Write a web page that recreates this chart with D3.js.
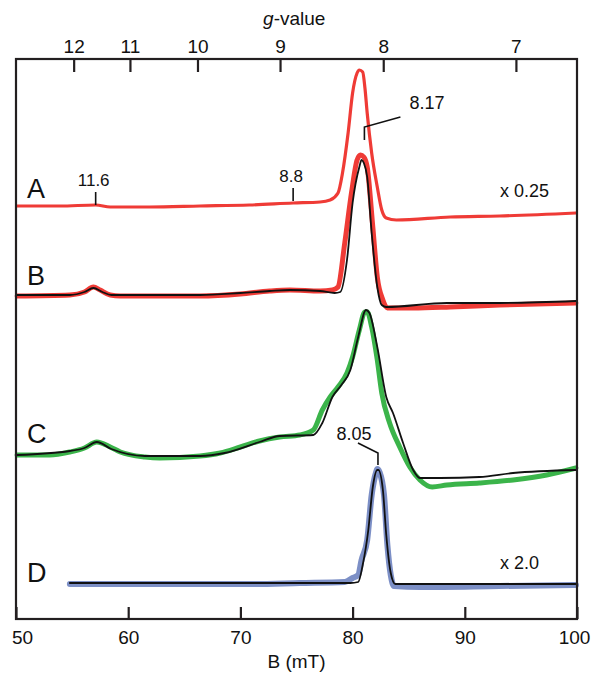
<!DOCTYPE html>
<html lang="en">
<head>
<meta charset="utf-8">
<title>EPR spectra</title>
<style>
  body { margin: 0; background: #fff; }
  svg text { font-family: "Liberation Sans", Arial, sans-serif; fill: #111; }
</style>
</head>
<body>
<svg width="592" height="673"></svg>
<script src="https://cdn.jsdelivr.net/npm/d3@7"></script>
<script>

    // field axis (mT) and g-value ticks
    var bTicks = [50, 60, 70, 80, 90, 100],
        gTicks = [12, 11, 10, 9, 8, 7],
        gB = 662.2; // g * B(mT) at this microwave frequency

    // spectra: [B (mT), intensity (a.u., stacked)]
    var traceA = [[50.1,41.3],[53.9,41.3],[57.1,41.4],[58.4,41.2],[61.9,41.2],[66.4,41.3],[70.8,41.4],
        [74.7,41.6],[77.1,41.7],[78.0,41.9],[78.7,42.6],[79.1,44.6],[79.6,48.6],[80.0,52.6],[80.4,54.6],
        [80.6,54.9],[80.9,54.7],[81.1,53.1],[81.3,50.6],[81.7,46.6],[82.2,43.2],[82.6,40.9],[83.0,40.1],
        [83.9,39.9],[88.7,40.2],[93.1,40.3],[99.9,40.6]];

    var traceB = [[50.1,32.3],[54.8,32.4],[56.1,32.7],[56.9,33.2],[57.5,32.9],[58.4,32.4],[59.3,32.3],
        [66.4,32.3],[70.0,32.5],[72.6,32.8],[74.4,32.9],[77.1,32.8],[78.2,32.9],[78.7,33.2],[79.3,37.6],
        [79.9,42.6],[80.4,45.9],[80.7,46.4],[81.0,46.2],[81.3,45.2],[81.8,39.2],[82.2,34.2],[82.7,31.9],
        [83.1,31.1],[85.4,31.1],[88.7,31.2],[93.1,31.4],[99.9,31.6]];

    var simB = [[50.1,32.4],[54.8,32.4],[56.1,32.7],[56.9,33.1],[57.7,32.7],[58.5,32.4],[66.4,32.4],
        [70.0,32.6],[72.6,32.8],[74.4,32.9],[77.1,32.8],[78.4,32.6],[78.9,32.7],[79.5,35.9],[80.0,41.6],
        [80.6,45.2],[80.8,45.9],[81.0,45.6],[81.3,44.2],[81.7,38.6],[82.2,33.2],[82.6,31.4],[83.0,31.2],
        [88.4,31.6],[93.1,31.6],[99.9,31.8]];

    var traceC = [[50.1,16.4],[53.0,16.4],[54.8,16.7],[56.1,17.1],[57.2,17.7],[58.4,17.2],[59.3,16.7],
        [61.5,16.2],[62.8,16.1],[66.4,16.3],[68.2,16.6],[70.0,17.2],[71.7,17.8],[73.5,18.2],[75.3,18.4],
        [76.5,18.9],[77.3,20.9],[78.0,22.2],[78.7,23.2],[79.5,24.6],[80.0,26.2],[80.6,28.9],[81.1,30.7],
        [81.3,30.7],[81.7,29.2],[82.2,25.9],[82.6,22.6],[83.3,19.6],[84.2,17.2],[85.1,15.2],[86.0,13.9],
        [87.1,13.2],[88.4,13.4],[91.3,13.6],[94.3,13.9],[97.3,14.4],[99.9,15.1]];

    var simC = [[50.1,16.4],[54.8,16.8],[56.1,17.1],[57.2,17.7],[58.5,17.0],[61.5,16.3],[66.4,16.3],
        [68.6,16.6],[71.7,17.7],[73.5,18.3],[76.5,18.4],[77.3,19.6],[78.2,22.2],[79.0,23.4],[79.8,24.9],
        [80.5,28.2],[81.2,30.9],[81.5,30.6],[82.2,27.2],[83.0,22.2],[83.6,20.6],[84.5,17.6],[85.4,14.9],
        [86.0,14.1],[87.8,14.1],[91.3,14.2],[94.3,14.6],[99.9,14.9]];

    var traceD = [[54.8,3.5],[61.9,3.5],[70.8,3.5],[75.3,3.6],[79.3,3.7],[80.0,4.1],[80.5,4.4],[80.8,5.9],
        [81.3,7.9],[81.7,12.4],[82.1,14.7],[82.2,15.0],[82.4,14.7],[82.8,12.4],[83.1,7.4],[83.4,4.4],
        [83.7,3.3],[86.0,3.2],[93.1,3.3],[99.9,3.4]];

    var simD = [[54.8,3.6],[79.8,3.6],[80.5,3.7],[80.9,5.4],[81.4,8.9],[81.8,13.2],[82.2,14.9],[82.3,14.9],
        [82.7,12.9],[83.0,8.4],[83.4,4.6],[83.8,3.5],[99.9,3.5]];

    var traceLabels = ["A", "B", "C", "D"],
        labelLevels = [42.1, 33.4, 17.6, 3.7];

    var svg = d3.select("svg"),
        mLeft = 16, mRight = 577, mTop = 59, mBottom = 619;

    var x = d3.scaleLinear().domain([50, 100]).range([mLeft, mRight]),
        y = d3.scaleLinear().domain([0, 56]).range([mBottom, mTop]);

    var line = d3.line()
        .x(function(d) { return x(d[0]); })
        .y(function(d) { return y(d[1]); })
        .curve(d3.curveMonotoneX);

    function drawTrace(data, color, width) {
        svg.append("path")
            .datum(data)
            .attr("d", line)
            .attr("fill", "none")
            .attr("stroke", color)
            .attr("stroke-width", width)
            .attr("stroke-linejoin", "round")
            .attr("stroke-linecap", "round");
    }

    drawTrace(traceA, "#ef3b36", 3.2);
    drawTrace(traceB, "#ef3b36", 5);
    drawTrace(simB, "#111", 1.8);
    drawTrace(traceC, "#3bb44a", 5);
    drawTrace(simC, "#111", 1.8);
    drawTrace(traceD, "#7c8fc6", 6);
    drawTrace(simD, "#111", 1.8);

    // frame
    svg.append("rect")
        .attr("x", mLeft).attr("y", mTop)
        .attr("width", mRight - mLeft).attr("height", mBottom - mTop)
        .attr("fill", "none").attr("stroke", "#231f20").attr("stroke-width", 2.2);

    // bottom axis
    var bottomAxis = svg.append("g")
        .attr("transform", "translate(0," + mBottom + ")")
        .call(d3.axisBottom(x).tickValues(bTicks).tickSizeInner(-12).tickSizeOuter(0).tickPadding(12));
    bottomAxis.select(".domain").remove();
    bottomAxis.selectAll("line").attr("stroke", "#231f20").attr("stroke-width", 2.2);
    bottomAxis.selectAll("text")
        .style("font-size", "19px")
        .attr("dx", function(d) { return d === 50 ? 6 : d === 100 ? -3 : 0; });

    svg.append("text")
        .attr("x", x(75)).attr("y", 668)
        .attr("text-anchor", "middle")
        .style("font-size", "19px")
        .text("B (mT)");

    // top axis in g-value
    var topAxis = svg.append("g")
        .attr("transform", "translate(0," + mTop + ")");
    topAxis.selectAll("line")
        .data(gTicks).enter().append("line")
        .attr("x1", function(g) { return x(gB / g); })
        .attr("x2", function(g) { return x(gB / g); })
        .attr("y1", 0).attr("y2", 13)
        .attr("stroke", "#231f20").attr("stroke-width", 2.2);
    topAxis.selectAll("text")
        .data(gTicks).enter().append("text")
        .attr("x", function(g) { return x(gB / g); })
        .attr("y", -6)
        .attr("text-anchor", "middle")
        .style("font-size", "19px")
        .text(function(g) { return g; });

    var gTitle = svg.append("text")
        .attr("x", x(74.8)).attr("y", 25)
        .attr("text-anchor", "middle")
        .style("font-size", "19px");
    gTitle.append("tspan").style("font-style", "italic").text("g");
    gTitle.append("tspan").text("-value");

    // trace letters
    svg.selectAll(".trace-label")
        .data(traceLabels).enter().append("text")
        .attr("class", "trace-label")
        .attr("x", 27)
        .attr("y", function(d, i) { return y(labelLevels[i]); })
        .style("font-size", "27px")
        .text(function(d) { return d; });

    // scale factors
    svg.append("text").attr("x", 500).attr("y", y(42.2))
        .style("font-size", "18px").text("x 0.25");
    svg.append("text").attr("x", 500).attr("y", y(5.0))
        .style("font-size", "18px").text("x 2.0");

    // g-value markers
    var markers = [
        { label: "11.6", b: 57.1, lo: 41.3 },
        { label: "8.8", b: 74.7, lo: 41.7 }
    ];
    markers.forEach(function(m) {
        svg.append("line")
            .attr("x1", x(m.b)).attr("x2", x(m.b))
            .attr("y1", y(m.lo) - 1).attr("y2", y(m.lo) - 14)
            .attr("stroke", "#111").attr("stroke-width", 1.6);
        svg.append("text")
            .attr("x", x(m.b) - 2).attr("y", y(m.lo) - 20)
            .attr("text-anchor", "middle")
            .style("font-size", "17px")
            .text(m.label);
    });

    // 8.17 leader
    var b817 = gB / 8.17;
    svg.append("path")
        .attr("d", "M" + x(b817) + "," + y(47.9) + "V" + y(49.2) + "L" + (x(b817) + 36) + "," + (y(49.2) - 10))
        .attr("fill", "none").attr("stroke", "#111").attr("stroke-width", 1.6);
    svg.append("text")
        .attr("x", x(b817) + 45).attr("y", y(49.2) - 18)
        .style("font-size", "18px").text("8.17");

    // 8.05 leader
    var b805 = gB / 8.05;
    svg.append("path")
        .attr("d", "M" + x(b805) + "," + y(15.4) + "V" + y(16.6) + "L" + (x(b805) - 20) + "," + (y(16.6) - 10))
        .attr("fill", "none").attr("stroke", "#111").attr("stroke-width", 1.6);
    svg.append("text")
        .attr("x", x(b805) - 24).attr("y", y(16.6) - 13)
        .attr("text-anchor", "middle")
        .style("font-size", "18px").text("8.05");

</script>
</body>
</html>
